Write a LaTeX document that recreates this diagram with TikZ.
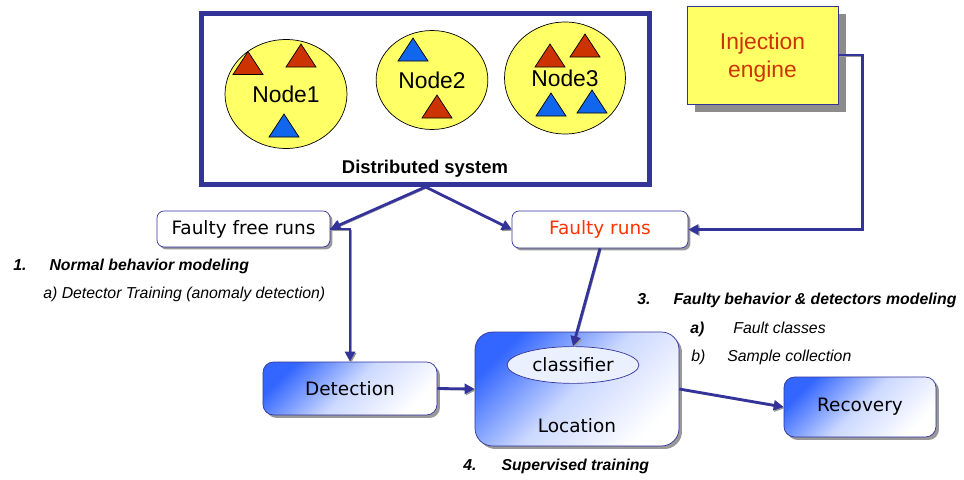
\documentclass[tikz,border=0pt]{standalone}
\usepackage{fontspec}
\setmainfont{Liberation Sans}
\newfontfamily\vfont{DejaVu Sans}
\usepackage{xcolor}
\usepackage{tikz}
\usetikzlibrary{arrows.meta,positioning,shapes.geometric,shadows,calc}
\definecolor{navy}{RGB}{51,51,153}
\definecolor{sunny}{RGB}{255,255,102}
\definecolor{brick}{RGB}{204,51,0}
\definecolor{sky}{RGB}{17,102,238}
\definecolor{deepblue}{RGB}{51,102,255}
\definecolor{flame}{RGB}{255,51,0}
\tikzset{
  sysbox/.style={draw=navy, line width=2.8pt, minimum width=8.96cm, minimum height=3.42cm},
  nodecirc/.style={ellipse, draw=black, thin, fill=sunny, font=\fontsize{13}{15}\selectfont},
  injbox/.style={draw=navy, fill=sunny, align=center, text=brick, font=\fontsize{13}{16}\selectfont,
              drop shadow={fill=gray!90, opacity=1, shadow xshift=0.16cm, shadow yshift=-0.16cm}},
  runbox/.style={draw=navy, fill=white, rounded corners=4pt, font=\vfont\fontsize{10.5}{12}\selectfont,
              drop shadow={fill=gray!80, opacity=1, shadow xshift=0.05cm, shadow yshift=-0.05cm}},
  stagebox/.style={draw=navy, rounded corners=6pt, top color=deepblue, bottom color=white,
              middle color=deepblue!25, shading angle=45, font=\vfont\fontsize{10.5}{12}\selectfont,
              drop shadow={fill=gray!80, opacity=1, shadow xshift=0.06cm, shadow yshift=-0.06cm}},
  flow/.style={-{Triangle[length=2mm, width=2mm]}, draw=navy, line width=1.6pt,
              preaction={draw=gray!80, transform canvas={shift={(0.7pt,-0.7pt)}}}},
  note/.style={anchor=west, inner sep=0pt, font=\fontsize{9}{11}\selectfont\itshape},
  boldnote/.style={note, font=\fontsize{9}{11}\selectfont\bfseries\itshape},
}
\newcommand{\tri}[3]{\draw[fill=#3, thin] (#1-15,#2+11.5) -- (#1,#2-11.5) -- (#1+15,#2+11.5) -- cycle;}

\begin{document}
\begin{tikzpicture}[x=0.02cm, y=-0.02cm]
  \useasboundingbox (0,0) rectangle (964,480);
  % distributed system
  \node[sysbox] (dsys) at (425.5,99) {};
  \node[font=\bfseries\fontsize{10.5}{12}\selectfont] (dlabel) at (425,169) {Distributed system};
  \node[nodecirc, minimum width=2.44cm, minimum height=2.18cm] (n1) at (286,94) {Node1};
  \node[nodecirc, minimum width=2.2cm, minimum height=1.98cm] (n2) at (432,80) {Node2};
  \node[nodecirc, minimum width=2.42cm, minimum height=2.24cm] (n3) at (565,78) {Node3};
  \tri{248}{63}{brick}
  \tri{301}{55.5}{brick}
  \tri{284}{125.5}{sky}
  \tri{413}{49.5}{sky}
  \tri{437}{106.5}{brick}
  \tri{550}{55.5}{brick}
  \tri{585}{45.5}{brick}
  \tri{551}{104.5}{sky}
  \tri{592}{101.5}{sky}
  \node[injbox, minimum width=3.02cm, minimum height=1.96cm] (inj) at (762.5,55) {\\[-4pt]Injection\\engine};
  % runs
  \node[runbox, minimum width=3.46cm, minimum height=0.72cm] (ffree) at (243.5,229) {Faulty free runs};
  \node[runbox, text=flame, minimum width=3.52cm, minimum height=0.74cm] (frun) at (600,229.5) {Faulty runs};
  % stages
  \node[stagebox, minimum width=3.48cm, minimum height=1.06cm] (det) at (350,388.5) {Detection};
  \node[stagebox, rounded corners=10pt, minimum width=4.08cm, minimum height=2.28cm,
        label={[font=\vfont\fontsize{10.5}{12}\selectfont, anchor=center, yshift=0.42cm]south:Location}] (loc) at (577,389) {};
  \node[ellipse, draw=navy, fill=deepblue!10, minimum width=2.42cm, minimum height=0.68cm,
        font=\vfont\fontsize{10.5}{12}\selectfont] (cls) at (573,365) {classifier};
  \node[stagebox, minimum width=3.04cm, minimum height=1.2cm] (rec) at (860,407) {Recovery};
  \draw[flow] (dsys.south) -- (ffree.east);
  \draw[flow] (dsys.south) -- (frun.west);
  \draw[flow] (ffree.east) -| (det.north);
  \draw[flow] (frun.south) -- (cls.north);
  \draw[flow] (inj.east) -- ++(24,0) |- (frun.east);
  \draw[flow] (det.east) -- (loc.west);
  \draw[flow] (loc.east) -- (rec.west);
  % notes
  \node[boldnote] (m1) at (13,266) {1.\hspace{0.46cm}Normal behavior modeling};
  \node[note] (m1a) at (43,294) {a) Detector Training (anomaly detection)};
  \node[boldnote] (m3) at (637,300) {3.\hspace{0.46cm}Faulty behavior \& detectors modeling};
  \node[note] (m3a) at (690,329) {\textbf{a)}\hspace{0.58cm}Fault classes};
  \node[note] (m3b) at (691,357) {b)\hspace{0.44cm}Sample collection};
  \node[boldnote] (m4) at (463,466) {4.\hspace{0.5cm}Supervised training};
\end{tikzpicture}
\end{document}
